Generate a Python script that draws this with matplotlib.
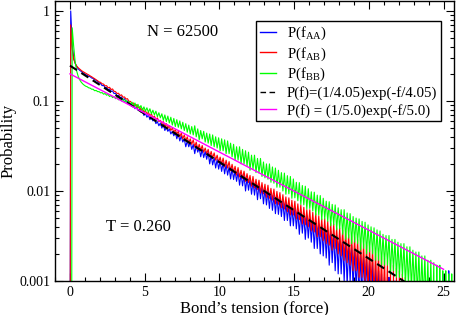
import numpy as np
import matplotlib
matplotlib.use('Agg')
import matplotlib.pyplot as plt

plt.rcParams['font.family'] = ['Liberation Serif', 'DejaVu Serif']
plt.rcParams['mathtext.fontset'] = 'custom'
plt.rcParams['mathtext.rm'] = 'Liberation Serif'

# histogram bins: width 0.1, first centre at 0.05 (one row per unit of force)
bin_width = 0.1
p_aa = [1.0, 0.42, 0.30, 0.262, 0.241, 0.228, 0.219, 0.213, 0.207, 0.202,
        0.196, 0.193, 0.188, 0.186, 0.180, 0.178, 0.172, 0.170, 0.165, 0.160,
        0.156, 0.148, 0.149, 0.141, 0.141, 0.133, 0.136, 0.128, 0.129, 0.121,
        0.122, 0.114, 0.116, 0.109, 0.111, 0.103, 0.106, 0.098, 0.100, 0.093,
        0.094, 0.087, 0.090, 0.082, 0.086, 0.079, 0.080, 0.075, 0.077, 0.069,
        0.073, 0.066, 0.070, 0.062, 0.066, 0.060, 0.063, 0.056, 0.059, 0.053,
        0.057, 0.050, 0.055, 0.047, 0.051, 0.046, 0.049, 0.043, 0.046, 0.041,
        0.045, 0.038, 0.043, 0.036, 0.041, 0.035, 0.038, 0.031, 0.036, 0.031,
        0.035, 0.029, 0.033, 0.026, 0.032, 0.027, 0.030, 0.024, 0.029, 0.0235,
        0.0275, 0.0225, 0.027, 0.0200, 0.025, 0.0195, 0.0235, 0.0180, 0.0225, 0.0175,
        0.0215, 0.0165, 0.0208, 0.0155, 0.0198, 0.0150, 0.0186, 0.0136, 0.0180, 0.0134,
        0.0168, 0.0128, 0.0165, 0.0116, 0.0155, 0.0114, 0.0150, 0.0100, 0.0140, 0.0102,
        0.0135, 0.0092, 0.0128, 0.0090, 0.0124, 0.0080, 0.0118, 0.0082, 0.0112, 0.0072,
        0.0106, 0.0070, 0.0100, 0.0064, 0.0096, 0.0061, 0.0090, 0.0056, 0.0088, 0.0055,
        0.0082, 0.0052, 0.0078, 0.0047, 0.0075, 0.0047, 0.0070, 0.0041, 0.0067, 0.0041,
        0.0065, 0.0038, 0.0060, 0.0033, 0.0058, 0.0034, 0.0054, 0.0029, 0.0053, 0.0030,
        0.0050, 0.0027, 0.0047, 0.0023, 0.0046, 0.0023, 0.0043, 0.0020, 0.0042, 0.0019,
        0.0040, 0.0018, 0.0037, 0.0015, 0.0036, 0.0016, 0.0033, 0.0013, 0.0032, 0.0012,
        0.0031, 0.0012, 0.0028, 0.0010, 0.0028, 0.0009, 0.0025, 0.0010, 0.0025, 0.0008,
        0.0023, 0.0008, 0.0021, 0.0006, 0.0021, 0.0006, 0.0019, 0.0007, 0.0018, 0.0005,
        0.0017, 0.0004, 0.0016, 1e-5, 0.0015, 1e-5, 0.0013, 1e-5, 0.0012, 1e-5,
        0.0011, 1e-5, 1e-5, 0.0011, 1e-5, 1e-5, 1e-5, 0.0010, 1e-5, 1e-5,
        1e-5, 1e-5, 1e-5, 1e-5, 1e-5, 1e-5, 1e-5, 1e-5, 1e-5, 1e-5,
        1e-5, 1e-5, 1e-5, 1e-5, 1e-5, 1e-5, 1e-5, 1e-5, 1e-5, 1e-5,
        1e-5, 1e-5, 1e-5, 1e-5, 1e-5, 1e-5, 1e-5, 1e-5, 1e-5, 0.0012,
        1e-5, 1e-5, 1e-5, 0.0013, 1e-5, 1e-5]
p_ab = [0.70, 0.38, 0.29, 0.262, 0.245, 0.234, 0.226, 0.219, 0.213, 0.208,
        0.203, 0.199, 0.195, 0.190, 0.186, 0.181, 0.177, 0.172, 0.168, 0.163,
        0.161, 0.155, 0.154, 0.147, 0.148, 0.140, 0.142, 0.134, 0.136, 0.128,
        0.127, 0.121, 0.122, 0.115, 0.117, 0.110, 0.111, 0.105, 0.106, 0.099,
        0.099, 0.094, 0.095, 0.088, 0.091, 0.084, 0.086, 0.080, 0.082, 0.076,
        0.078, 0.072, 0.075, 0.068, 0.072, 0.065, 0.068, 0.062, 0.065, 0.059,
        0.061, 0.056, 0.059, 0.052, 0.056, 0.050, 0.053, 0.047, 0.050, 0.045,
        0.048, 0.043, 0.046, 0.040, 0.044, 0.038, 0.042, 0.036, 0.040, 0.034,
        0.038, 0.033, 0.037, 0.031, 0.035, 0.029, 0.033, 0.028, 0.032, 0.027,
        0.030, 0.026, 0.0290, 0.0240, 0.0275, 0.0232, 0.0265, 0.0220, 0.0250, 0.0208,
        0.0238, 0.0198, 0.0232, 0.0185, 0.0220, 0.0180, 0.0212, 0.0168, 0.0198, 0.0162,
        0.0188, 0.0150, 0.0182, 0.0143, 0.0170, 0.0138, 0.0166, 0.0128, 0.0156, 0.0124,
        0.0149, 0.0113, 0.0145, 0.0108, 0.0135, 0.0104, 0.0132, 0.0095, 0.0124, 0.0093,
        0.0119, 0.0085, 0.0116, 0.0083, 0.0107, 0.0079, 0.0105, 0.0072, 0.0099, 0.0071,
        0.0096, 0.0065, 0.0091, 0.0063, 0.0086, 0.0059, 0.0084, 0.0054, 0.0079, 0.0054,
        0.0077, 0.0049, 0.0072, 0.0048, 0.0070, 0.0043, 0.0066, 0.0042, 0.0062, 0.0040,
        0.0062, 0.0036, 0.0058, 0.0035, 0.0056, 0.0031, 0.0053, 0.0031, 0.0049, 0.0028,
        0.0049, 0.0026, 0.0046, 0.0025, 0.0044, 0.0022, 0.0043, 0.0023, 0.0039, 0.0020,
        0.0039, 0.0019, 0.0037, 0.0017, 0.0036, 0.0016, 0.0033, 0.0015, 0.0032, 0.0013,
        0.0031, 0.0013, 0.0029, 0.0011, 0.0028, 0.0011, 0.0026, 0.0010, 0.0025, 0.0008,
        0.0024, 0.0009, 0.0023, 0.0007, 0.0021, 0.0007, 0.0020, 0.0006, 0.0019, 0.0005,
        0.0018, 0.0004, 0.0017, 1e-5, 0.0016, 1e-5, 0.0015, 1e-5, 0.0014, 1e-5,
        0.0013, 1e-5, 0.0012, 1e-5, 0.0011, 1e-5, 1e-5, 0.0010, 1e-5, 1e-5]
p_bb = [0.65, 0.40, 0.27, 0.215, 0.188, 0.172, 0.162, 0.155, 0.150, 0.146,
        0.144, 0.140, 0.139, 0.135, 0.135, 0.130, 0.131, 0.127, 0.127, 0.123,
        0.124, 0.119, 0.121, 0.116, 0.118, 0.112, 0.115, 0.109, 0.112, 0.106,
        0.110, 0.103, 0.108, 0.100, 0.105, 0.097, 0.102, 0.094, 0.099, 0.091,
        0.097, 0.088, 0.095, 0.085, 0.092, 0.082, 0.089, 0.079, 0.086, 0.077,
        0.084, 0.075, 0.082, 0.072, 0.079, 0.070, 0.077, 0.067, 0.074, 0.065,
        0.072, 0.061, 0.070, 0.059, 0.068, 0.057, 0.066, 0.054, 0.064, 0.052,
        0.062, 0.051, 0.060, 0.049, 0.058, 0.047, 0.056, 0.045, 0.054, 0.043,
        0.052, 0.042, 0.053, 0.040, 0.049, 0.037, 0.047, 0.038, 0.046, 0.035,
        0.044, 0.034, 0.043, 0.032, 0.042, 0.031, 0.040, 0.030, 0.039, 0.028,
        0.038, 0.028, 0.037, 0.026, 0.036, 0.026, 0.034, 0.024, 0.033, 0.022,
        0.031, 0.022, 0.031, 0.020, 0.029, 0.020, 0.028, 0.019, 0.027, 0.017,
        0.025, 0.0175, 0.025, 0.0160, 0.023, 0.0158, 0.023, 0.0145, 0.021, 0.0140,
        0.020, 0.0135, 0.0200, 0.0125, 0.0185, 0.0122, 0.0180, 0.0110, 0.0170, 0.0110,
        0.0160, 0.0100, 0.0158, 0.0092, 0.0148, 0.0093, 0.0145, 0.0083, 0.0136, 0.0084,
        0.0125, 0.0078, 0.0124, 0.0071, 0.0115, 0.0070, 0.0113, 0.0063, 0.0106, 0.0064,
        0.0098, 0.0060, 0.0097, 0.0054, 0.0090, 0.0054, 0.0089, 0.0048, 0.0083, 0.0049,
        0.0077, 0.0046, 0.0076, 0.0041, 0.0071, 0.0042, 0.0070, 0.0037, 0.0065, 0.0038,
        0.0062, 0.0033, 0.0062, 0.0029, 0.0057, 0.0030, 0.0056, 0.0026, 0.0052, 0.0027,
        0.0050, 0.0026, 0.0049, 0.0022, 0.0046, 0.0023, 0.0045, 0.0020, 0.0042, 0.0021,
        0.0040, 0.0020, 0.0039, 0.0017, 0.0037, 0.0017, 0.0036, 0.0015, 0.0033, 0.0015,
        0.0032, 0.0015, 0.0032, 0.0012, 0.0029, 0.0013, 0.0029, 0.0011, 0.0027, 0.0011,
        0.0026, 0.0011, 0.0026, 0.0009, 0.0024, 0.0009, 0.0024, 0.0008, 0.0022, 0.0008,
        0.0021, 0.0007, 0.0021, 0.0006, 0.0019, 0.0006, 0.0019, 0.0005, 0.0017, 0.0004,
        0.0017, 0.0003, 0.0016, 1e-5, 0.0015, 1e-5, 0.0015, 1e-5, 0.0013, 1e-5,
        0.0013, 1e-5, 0.0012, 1e-5, 0.0012, 1e-5, 0.0011]

# where each histogram rises from the bottom (the green one one pixel to the right)
start_aa = 0.0
start_ab = 0.0
start_bb = 0.1

# straight lines on the log axis, end points
fit405_f = [0.0, 22.45]
fit405_p = [0.247, 0.00097]
fit50_f = [0.0, 25.0]
fit50_p = [0.2, 0.00135]

labels = ['P(f$_{\\rm AA}$)', 'P(f$_{\\rm AB}$)', 'P(f$_{\\rm BB}$)',
          'P(f)=(1/4.05)exp(-f/4.05)', 'P(f) = (1/5.0)exp(-f/5.0)']


def bins(vals, start):
    f = start + 0.05 + bin_width * np.arange(len(vals))
    return np.concatenate([[start], f]), np.concatenate([[1e-5], vals])


fig = plt.figure(figsize=(4.57, 3.15), dpi=100)
ax = fig.add_axes([0.1204, 0.1079, 0.8730, 0.8889])

fa, pa = bins(p_aa, start_aa)
fr, pr = bins(p_ab, start_ab)
fb, pb = bins(p_bb, start_bb)
l_aa, = ax.plot(fa, pa, color='#0000ff', lw=0.8)
l_ab, = ax.plot(fr, pr, color='#ff0000', lw=0.8)
l_bb, = ax.plot(fb, pb, color='#00ff00', lw=0.8)
l_fit, = ax.plot(fit405_f, fit405_p, color='black', lw=1.5, dashes=(4, 2.5))
l_mag, = ax.plot(fit50_f, fit50_p, color='#ff00ff', lw=1.0)

ax.set_yscale('log')
ax.set_xlim(-1, 25.7)
ax.set_ylim(0.001, 1.29)
ax.set_xticks([0, 5, 10, 15, 20, 25])
ax.set_xticks(np.arange(-1, 26), minor=True)
ax.set_yticks([0.001, 0.01, 0.1, 1])
ax.set_yticklabels(['0.001', '0.01', '0.1', '1'])
ax.tick_params(which='both', direction='in', top=True, right=True, labelsize=10, width=0.8)
ax.tick_params(which='major', length=6)
ax.tick_params(which='minor', length=3)
for s in ax.spines.values():
    s.set_linewidth(1.0)

ax.set_xlabel('Bond\u2019s tension (force)', fontsize=12, labelpad=1)
ax.set_ylabel('Probability', fontsize=12, labelpad=2)

ax.text(7.55, 0.59, 'N = 62500', fontsize=12, ha='center', va='center')
ax.text(4.6, 0.0040, 'T = 0.260', fontsize=12, ha='center', va='center')

leg = ax.legend([l_aa, l_ab, l_bb, l_fit, l_mag], labels, loc='upper right',
                bbox_to_anchor=(0.967, 0.929), borderaxespad=0, fontsize=10.7,
                handlelength=1.1, handletextpad=0.7, labelspacing=0.22,
                borderpad=0.25, fancybox=False, framealpha=1)
leg.get_frame().set_edgecolor('black')
leg.get_frame().set_linewidth(1.0)
for h in leg.get_lines():
    h.set_linewidth(1.0)

fig.savefig('out.png', dpi=100)
